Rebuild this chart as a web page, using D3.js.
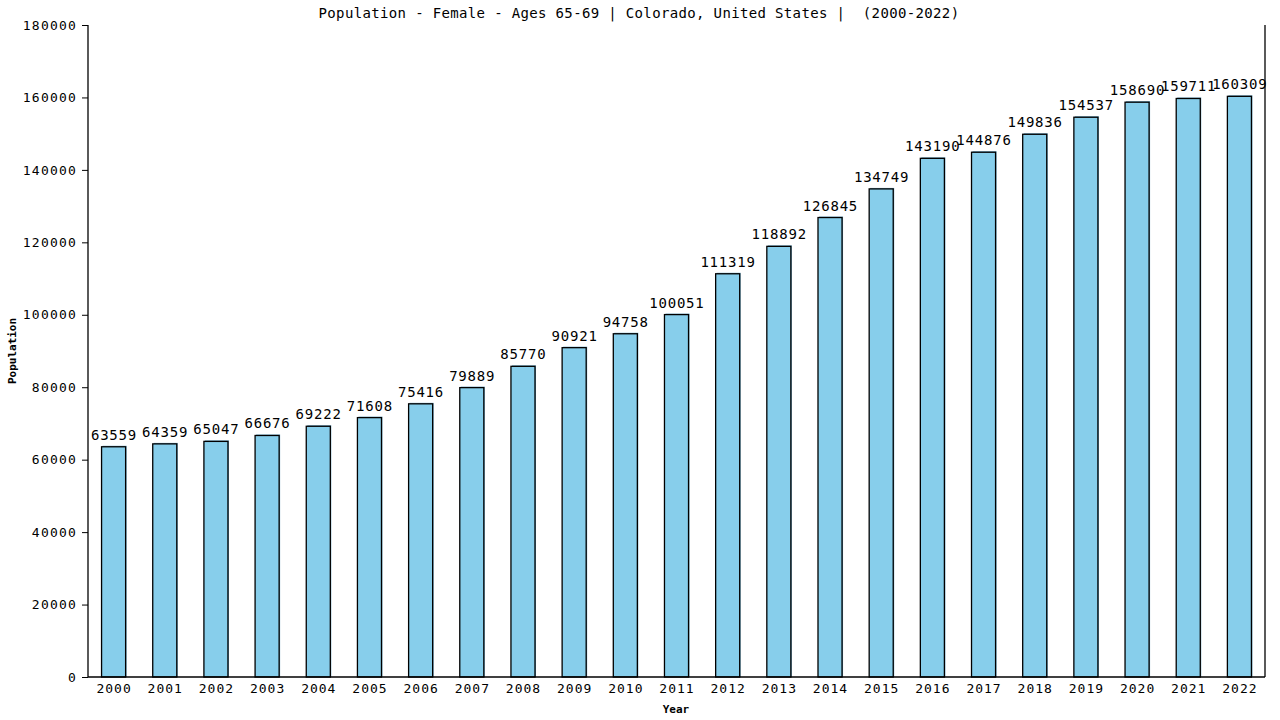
<!DOCTYPE html>
<html>
<head>
<meta charset="utf-8">
<script src="https://cdn.jsdelivr.net/npm/d3@7"></script>
<style>
body { margin: 0; background: #fff; }
text { font-family: "DejaVu Sans Mono", monospace; }
</style>
</head>
<body>
<div id="chart-area"></div>
<script>
// data
var years = ["2000","2001","2002","2003","2004","2005","2006","2007","2008","2009","2010","2011",
	"2012","2013","2014","2015","2016","2017","2018","2019","2020","2021","2022"];
var population = [63559,64359,65047,66676,69222,71608,75416,79889,85770,90921,94758,100051,
	111319,118892,126845,134749,143190,144876,149836,154537,158690,159711,160309];
var yTicks = [0,20000,40000,60000,80000,100000,120000,140000,160000,180000];

var margin = {left: 88, right: 15, top: 25, bottom: 43};
var width = 1280, height = 720;

var svg = d3.select("#chart-area")
			.append("svg")
			.attr("width", width)
			.attr("height", height);

var x = d3.scaleBand()
		.domain(years)
		.range([margin.left, width - margin.right])
		.paddingInner(0.53)
		.paddingOuter(0.265);

var y = d3.scaleLinear()
		.domain([0, 180000])
		.range([height - margin.bottom, margin.top]);

// bars
var bars = svg.selectAll("g.bar")
				.data(population)
				.enter()
				.append("g")
				.attr("class", "bar");

bars.append("rect")
	.attr("x", function(d,i){ return x(years[i]) + 1; })
	.attr("y", function(d){ return y(d) - 1; })
	.attr("width", x.bandwidth())
	.attr("height", function(d){ return y(0) - y(d) + 1; })
	.attr("fill", "#6fa8c4");

bars.append("rect")
	.attr("x", function(d,i){ return x(years[i]); })
	.attr("y", function(d){ return y(d); })
	.attr("width", x.bandwidth())
	.attr("height", function(d){ return y(0) - y(d); })
	.attr("fill", "#87ceeb")
	.attr("stroke", "#000")
	.attr("stroke-width", 1.3);

bars.append("text")
	.attr("x", function(d,i){ return x(years[i]) + x.bandwidth() / 2 + 0.4; })
	.attr("y", function(d){ return y(d) - 7; })
	.attr("text-anchor", "middle")
	.attr("font-size", 14)
	.attr("letter-spacing", 0.8)
	.text(function(d){ return d; });

// axes
var yAxis = d3.axisLeft(y).tickValues(yTicks).tickSize(6).tickFormat(d3.format("d"));
svg.append("g")
	.attr("transform", "translate(" + margin.left + ",0)")
	.call(yAxis)
	.call(function(g){
		g.select(".domain").remove();
		g.selectAll("text").attr("font-size", 13).attr("font-family", "DejaVu Sans Mono")
			.attr("letter-spacing", 1.2).attr("fill", "#000").attr("dx", -2);
		g.selectAll("line").attr("stroke", "#000");
	});

var xAxis = d3.axisBottom(x).tickSize(0).tickPadding(7);
svg.append("g")
	.attr("transform", "translate(0," + y(0) + ")")
	.call(xAxis)
	.call(function(g){
		g.select(".domain").remove();
		g.selectAll("text").attr("font-size", 13).attr("font-family", "DejaVu Sans Mono")
			.attr("letter-spacing", 1).attr("dx", 0.5).attr("fill", "#000");
	});

// frame lines
svg.append("line")
	.attr("x1", margin.left).attr("x2", margin.left)
	.attr("y1", margin.top).attr("y2", y(0))
	.attr("stroke", "#000").attr("stroke-width", 1.3);
svg.append("line")
	.attr("x1", width - margin.right).attr("x2", width - margin.right)
	.attr("y1", margin.top).attr("y2", y(0))
	.attr("stroke", "#000").attr("stroke-width", 1.3);
svg.append("line")
	.attr("x1", margin.left).attr("x2", width - margin.right)
	.attr("y1", y(0)).attr("y2", y(0))
	.attr("stroke", "#000").attr("stroke-width", 1.3);

// titles
svg.append("text")
	.attr("x", 639)
	.attr("y", 18)
	.attr("text-anchor", "middle")
	.attr("font-size", 14)
	.attr("letter-spacing", 0.35)
	.text("Population - Female - Ages 65-69 | Colorado, United States |  (2000-2022)")
	.style("white-space", "pre");

svg.append("text")
	.attr("x", 676)
	.attr("y", 713)
	.attr("text-anchor", "middle")
	.attr("font-size", 11)
	.attr("font-weight", "bold")
	.text("Year");

svg.append("text")
	.attr("transform", "translate(16,351) rotate(-90)")
	.attr("text-anchor", "middle")
	.attr("font-size", 11)
	.attr("font-weight", "bold")
	.text("Population");
</script>
</body>
</html>
